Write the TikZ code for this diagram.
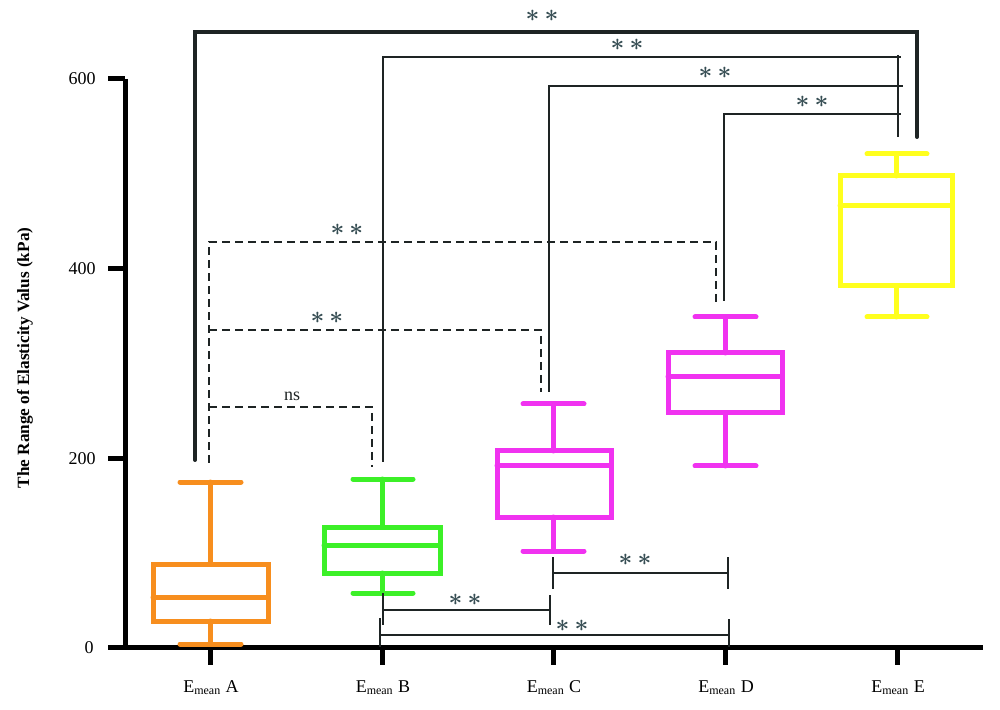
\documentclass[tikz,border=0pt]{standalone}
\usepackage{amsmath}
\usepackage{fontspec}
\setmainfont{Liberation Serif}
\usepackage{tikz}
\usepackage{xcolor}

\definecolor{boxorange}{RGB}{247,142,30}
\definecolor{boxgreen}{RGB}{60,240,40}
\definecolor{boxmagenta}{RGB}{240,50,240}
\definecolor{boxyellow}{RGB}{255,255,30}
\definecolor{barline}{RGB}{30,36,36}
\definecolor{starcol}{RGB}{55,78,84}

\tikzset{
    axisline/.style={line width=2.5pt, black},
    boxline/.style={line width=2.5pt, line cap=round},
    sigthick/.style={line width=2pt, barline, line cap=round},
    sigthin/.style={line width=1pt, barline},
    sigdash/.style={line width=1.3pt, barline, dash pattern=on 4pt off 2.5pt},
    stars/.style={inner sep=0pt, text=starcol, font=\fontsize{12.5}{12.5}\selectfont\boldmath},
    ticklabel/.style={inner sep=0pt, font=\fontsize{9}{10}\selectfont},
}

\begin{document}
\begin{tikzpicture}[x=0.5pt, y=-0.5pt]
        \useasboundingbox (0,0) rectangle (1000,710);

        % axes
        \draw [axisline] (125,79) -- (125,647) -- (983,647);
        \draw [axisline] (108,79) -- (125,79);
        \draw [axisline] (108,269) -- (125,269);
        \draw [axisline] (108,459) -- (125,459);
        \draw [axisline] (108,647) -- (125,647);
        \node [ticklabel, anchor=east] (y600) at (96,79) {600};
        \node [ticklabel, anchor=east] (y400) at (96,269) {400};
        \node [ticklabel, anchor=east] (y200) at (96,459) {200};
        \node [ticklabel, anchor=east] (y0) at (94,648) {0};
        \node [rotate=90, inner sep=0pt, font=\fontsize{8.6}{9}\selectfont\bfseries] (ylab) at (25,358) {The Range of Elasticity Valus (kPa)};

        \draw [axisline] (210,647) -- (210,665);
        \draw [axisline] (382,647) -- (382,665);
        \draw [axisline] (553,647) -- (553,665);
        \draw [axisline] (725,647) -- (725,665);
        \draw [axisline] (897,647) -- (897,665);
        \node [ticklabel] (catA) at (211,688) {E$_{\text{mean}}$ A};
        \node [ticklabel] (catB) at (383,688) {E$_{\text{mean}}$ B};
        \node [ticklabel] (catC) at (554,688) {E$_{\text{mean}}$ C};
        \node [ticklabel] (catD) at (726,688) {E$_{\text{mean}}$ D};
        \node [ticklabel] (catE) at (898,688) {E$_{\text{mean}}$ E};

        % boxes
        \draw [boxline, boxorange] (153,564) rectangle (268,621) (153,597) -- (268,597) (210,564) -- (210,482) (180,482) -- (241,482) (210,621) -- (210,644) (180,644) -- (241,644);
        \draw [boxline, boxgreen] (324,527) rectangle (440,573) (324,545) -- (440,545) (382,527) -- (382,479) (353,479) -- (413,479) (382,573) -- (382,593) (353,593) -- (413,593);
        \draw [boxline, boxmagenta] (497,451) rectangle (611,517) (497,466) -- (611,466) (553,451) -- (553,404) (523,404) -- (584,404) (553,517) -- (553,551) (523,551) -- (584,551);
        \draw [boxline, boxmagenta] (668,353) rectangle (782,413) (668,377) -- (782,377) (725,353) -- (725,317) (695,317) -- (756,317) (725,413) -- (725,466) (695,466) -- (756,466);
        \draw [boxline, boxyellow] (840,176) rectangle (952,286) (840,206) -- (952,206) (896,176) -- (896,154) (867,154) -- (927,154) (896,286) -- (896,317) (867,317) -- (927,317);

        % brackets above
        \draw [sigthick] (195,460) -- (195,32) -- (917,32) -- (917,137);
        \draw [sigthin] (383,462) |- (901,57);
        \draw [sigthin] (549,392) |- (903,86);
        \draw [sigthin] (724,301) |- (901,114);
        \draw [sigthin] (898,55) -- (898,137);
        \node [stars] (sAE) at (542,16) {$\ast$\hspace{2.5pt}$\ast$};
        \node [stars] (sBE) at (627,45) {$\ast$\hspace{2.5pt}$\ast$};
        \node [stars] (sCE) at (715,73) {$\ast$\hspace{2.5pt}$\ast$};
        \node [stars] (sDE) at (812,102) {$\ast$\hspace{2.5pt}$\ast$};

        \draw [sigdash] (209,463) |- (716,242) -- (716,302);
        \draw [sigdash] (209,330) -| (541,392);
        \draw [sigdash] (209,407) -| (372,467);
        \node [stars] (sAD) at (347,230) {$\ast$\hspace{2.5pt}$\ast$};
        \node [stars] (sAC) at (327,318) {$\ast$\hspace{2.5pt}$\ast$};
        \node [ticklabel, text=barline] (sAB) at (292,396) {ns};

        % brackets below
        \draw [sigthin] (383,593) -- (383,625) (383,610) -- (550,610);
        \draw [sigthin, line width=1.3pt] (550,595) -- (550,625);
        \draw [sigthin] (553,573) -- (728,573);
        \draw [sigthin, line width=1.3pt] (553,557) -- (553,589) (728,557) -- (728,589);
        \draw [sigthin] (380,635) -- (729,635);
        \draw [sigthin, line width=1.3pt] (380,618) -- (380,647) (729,619) -- (729,647);
        \node [stars] (sBC) at (465,600) {$\ast$\hspace{2.5pt}$\ast$};
        \node [stars] (sCD) at (635,560) {$\ast$\hspace{2.5pt}$\ast$};
        \node [stars] (sBD) at (572,626) {$\ast$\hspace{2.5pt}$\ast$};

    \end{tikzpicture}
\end{document}
